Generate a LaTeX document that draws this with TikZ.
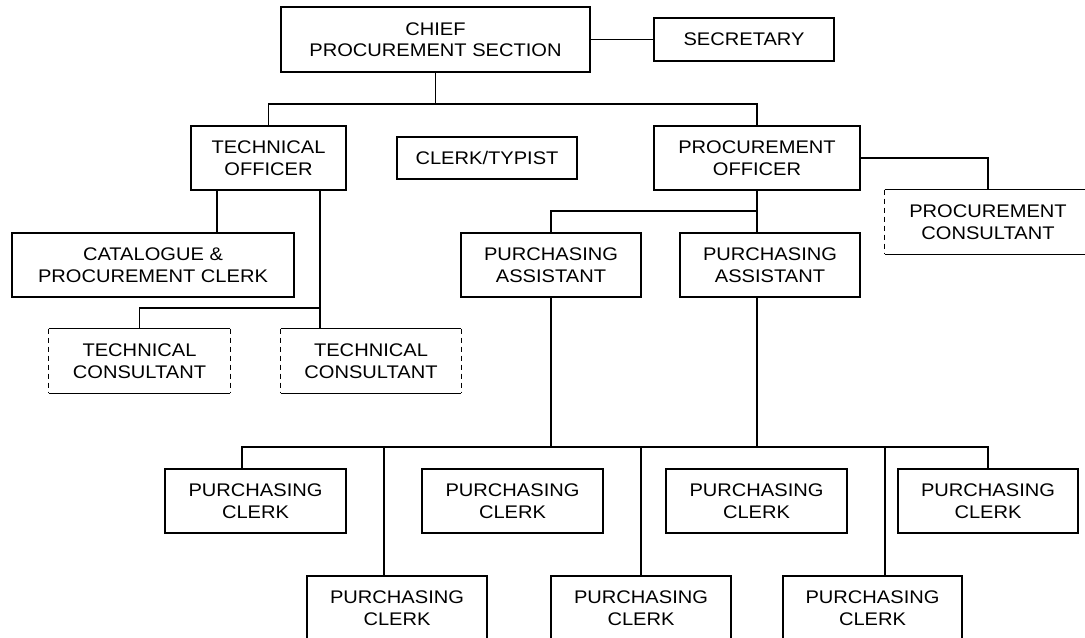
\documentclass[tikz,border=0pt]{standalone}
\usepackage{fontspec}
\setmainfont{Liberation Sans}[FakeStretch=1.1]
\newcommand{\boxfont}{\fontsize{13.7pt}{16.1pt}\selectfont}
\begin{document}
\begin{tikzpicture}[x=0.75pt,y=-0.75pt,
  bx/.style 2 args={draw, line width=0.85pt, inner sep=0pt, minimum width=#1*0.75pt, minimum height=#2*0.75pt, align=center, font=\boxfont},
  dbx/.style 2 args={inner sep=0pt, minimum width=#1*0.75pt, minimum height=#2*0.75pt, align=center, font=\boxfont},
  conn/.style={line width=0.85pt},
  dside/.style={line width=0.85pt, dash pattern=on 3.75pt off 3pt}]
\clip (0,0) rectangle (1085,638);
\fill[white] (0,0) rectangle (1085,638);
% nodes
\node[bx={309}{65}] (chief) at (435.5,39.5) {CHIEF\\PROCUREMENT SECTION};
\node[bx={180}{43}] (sec) at (744,39.5) {SECRETARY};
\node[bx={155}{64}] (to) at (268.5,158) {TECHNICAL\\OFFICER};
\node[bx={180}{42}] (ct) at (487,158) {CLERK/TYPIST};
\node[bx={206}{64}] (po) at (757,158) {PROCUREMENT\\OFFICER};
\node[bx={282}{64}] (cat) at (153,265) {CATALOGUE \&\\PROCUREMENT CLERK};
\node[bx={180}{64}] (pa1) at (551,265) {PURCHASING\\ASSISTANT};
\node[bx={180}{64}] (pa2) at (770,265) {PURCHASING\\ASSISTANT};
\node[dbx={206}{64}] (pc) at (988,222) {PROCUREMENT\\CONSULTANT};
\node[dbx={181}{64}] (tc1) at (139.5,361) {TECHNICAL\\CONSULTANT};
\node[dbx={180}{64}] (tc2) at (371,361) {TECHNICAL\\CONSULTANT};
\node[bx={181}{64}] (c1) at (255.5,501) {PURCHASING\\CLERK};
\node[bx={181}{64}] (c2) at (512.5,501) {PURCHASING\\CLERK};
\node[bx={181}{64}] (c3) at (756.5,501) {PURCHASING\\CLERK};
\node[bx={180}{64}] (c4) at (988,501) {PURCHASING\\CLERK};
\node[bx={180}{64}] (b1) at (397,608) {PURCHASING\\CLERK};
\node[bx={180}{64}] (b2) at (641,608) {PURCHASING\\CLERK};
\node[bx={179}{64}] (b3) at (872.5,608) {PURCHASING\\CLERK};
% dashed-side boxes
\foreach \n in {pc,tc1,tc2}{
  \draw[conn] (\n.north west) -- (\n.north east) (\n.south west) -- (\n.south east);
  \draw[dside] (\n.north west) -- (\n.south west) (\n.north east) -- (\n.south east);
}
% helper coordinates
\coordinate (bus1) at (0,104);
\coordinate (bus2) at (0,211);
\coordinate (bus3) at (0,308);
\coordinate (bus4) at (0,447);
\coordinate (xa) at (217,0);
\coordinate (xb) at (320,0);
\coordinate (xd) at (242,0);
\coordinate (xe) at (384,0);
\coordinate (xf) at (641,0);
\coordinate (xg) at (885,0);
% connectors
\draw[conn] (chief.east) -- (sec.west);
\draw[conn] (chief.south) -- (chief.south |- bus1);
\draw[conn] (to.north) -- (to.north |- bus1) -- (po.north |- bus1) -- (po.north);
\draw[conn] (to.south -| xa) -- (cat.north -| xa);
\draw[conn] (to.south -| xb) -- (tc2.north -| xb);
\draw[conn] (tc1.north) -- (tc1.north |- bus3) -- (bus3 -| xb);
\draw[conn] (po.east) -| (pc.north);
\draw[conn] (po.south) -- (pa2.north -| po.south);
\draw[conn] (pa1.north) -- (pa1.north |- bus2) -- (bus2 -| po.south);
\draw[conn] (pa1.south) -- (pa1.south |- bus4);
\draw[conn] (pa2.south -| po.south) -- (bus4 -| po.south);
\draw[conn] (c1.north -| xd) -- (bus4 -| xd) -- (bus4 -| c4.north) -- (c4.north);
\draw[conn] (bus4 -| xe) -- (b1.north -| xe);
\draw[conn] (bus4 -| xf) -- (b2.north -| xf);
\draw[conn] (bus4 -| xg) -- (b3.north -| xg);
\end{tikzpicture}
\end{document}
